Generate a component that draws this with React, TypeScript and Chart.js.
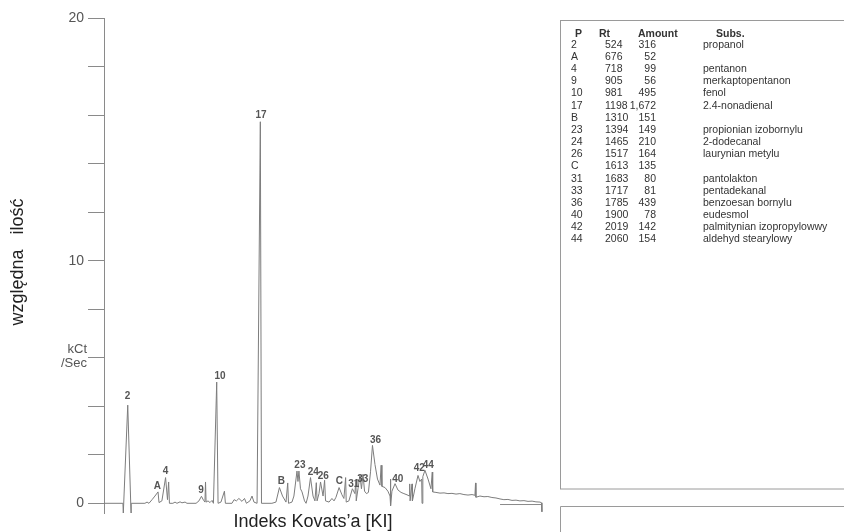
import React, { useEffect, useRef } from 'react';
import { Chart, registerables } from 'chart.js';
Chart.register(...registerables);

// Chromatogram trace: Kovats index (KI) vs relative amount (kCt/Sec)
const traceKI = [
  400, 498, 500, 523, 540, 541, 612, 623, 633, 649, 664, 680, 685, 700, 719, 729, 735, 739,
  757, 768, 778, 794, 804, 820, 830, 877, 892, 905, 916, 923, 926, 929, 939, 949, 960, 967,
  984, 991, 1006, 1024, 1029, 1063, 1074, 1086, 1099, 1115, 1128, 1138, 1156, 1167, 1177,
  1193, 1210, 1216, 1270, 1291, 1309, 1325, 1343, 1352, 1356, 1374, 1384, 1400, 1405, 1410,
  1418, 1426, 1439, 1447, 1457, 1470, 1483, 1493, 1500, 1504, 1514, 1522, 1535, 1543, 1548,
  1566, 1581, 1592, 1602, 1618, 1633, 1643, 1652, 1655, 1669, 1687, 1700, 1705, 1707, 1716,
  1726, 1734, 1742, 1750, 1760, 1770, 1781, 1791, 1804, 1817, 1830, 1836, 1840, 1856, 1871,
  1882, 1884, 1886, 1892, 1908, 1923, 1939, 1954, 1970, 1983, 1984, 1986, 1996, 1998, 2011,
  2027, 2037, 2046, 2048, 2052, 2063, 2079, 2094, 2101, 2103, 2120, 2141, 2162, 2182, 2203,
  2224, 2244, 2265, 2286, 2307, 2322, 2325, 2327, 2348, 2369, 2389, 2410, 2431, 2452, 2472,
  2493, 2514, 2535, 2555, 2576, 2597, 2618, 2638, 2659, 2667, 2669,
];
const traceVal = [
  0, 0, -0.4, 4.05, -0.4, 0, 0, 0.05, 0, 0.15, 0.3, 0.47, 0.03, 0.1, 1.06, 0.15, 0.88, 0,
  0, 0.05, 0, 0.06, 0.02, 0.05, 0, 0, 0.1, 0.29, 0.12, 0.05, 0.88, 0.05, 0.1, 0.03, 0.12, 0,
  5.0, 0, 0.05, 0.5, 0, 0, 0.15, 0.1, 0.2, 0.08, 0.2, 0, 0.1, 0.3, 0.05,
  0, 15.74, 0, 0, 0.05, 0.65, 0.3, 0.05, 0.84, 0, 0.05, 0.3, 1.33, 0.9, 1.33,
  0.6, 0.47, 0.1, 0, 0.3, 1.06, 0.3, 0.1, 0.85, 0.1, 0.4, 0.88, 0.3, 0.95, 0.1,
  0.05, 0.2, 0.1, 0.25, 0.65, 0.35, 0.2, 1.06, 0.05, 0.1, 0.6, 0.4, 0.95, 0.1, 0.6,
  1.15, 0.6, 1.2, 0.5, 0.4, 0.45, 1.3, 2.39, 1.6, 1.0, 0.75, 1.57, 0.7, 0.65, 0.5,
  0.3, 1.0, -0.1, 0.5, 0.81, 0.55, 0.45, 0.4, 0.35, 0.3, 0.8, 0.1, 0.8, 0.1, 0.6,
  1.15, 0.9, 1.0, 0, 1.1, 1.36, 1.0, 0.6, 1.29, 0.47, 0.45, 0.42, 0.43, 0.4, 0.41,
  0.38, 0.4, 0.36, 0.34, 0.36, 0.33, 0.84, 0.25, 0.3, 0.27, 0.28, 0.24, 0.22, 0.18, 0.15,
  0.16, 0.12, 0.13, 0.1, 0.11, 0.08, 0.09, 0.06, 0.05, 0.02, -0.35,
];

// Short horizontal baseline marker at the end of the run
const markKI = [2452, 2667];
const markVal = [-0.05, -0.05];

// Peak labels (name, KI, level of the label in kCt/Sec)
const peakNames = ['2', 'A', '4', '9', '10', '17', 'B', '23', '24', '26', 'C', '31', '33', '36', '40', '42', '44'];
const peakKI = [522, 676, 719, 903, 1001, 1214, 1319, 1415, 1484, 1536, 1619, 1694, 1741, 1807, 1922, 2034, 2080];
const peakLevel = [4.43, 0.71, 1.33, 0.55, 5.25, 16.02, 0.93, 1.55, 1.28, 1.13, 0.89, 0.8, 0.99, 2.61, 0.99, 1.44, 1.58];

const yLabelled = [0, 10, 20];
const yUnit = ['kCt', '/Sec'];
const yTitle = 'względna   ilość';
const xTitle = 'Indeks Kovats’a [KI]';

// Peak table
const tableHeader = ['P', 'Rt', 'Amount', 'Subs.'];
const tableP = ['2', 'A', '4', '9', '10', '17', 'B', '23', '24', '26', 'C', '31', '33', '36', '40', '42', '44'];
const tableRt = ['524', '676', '718', '905', '981', '1198', '1310', '1394', '1465', '1517', '1613', '1683', '1717', '1785', '1900', '2019', '2060'];
const tableAmount = ['316', '52', '99', '56', '495', '1,672', '151', '149', '210', '164', '135', '80', '81', '439', '78', '142', '154'];
const tableSubs = [
  'propanol', '', 'pentanon', 'merkaptopentanon', 'fenol', '2.4-nonadienal', '',
  'propionian izobornylu', '2-dodecanal', 'laurynian metylu', '', 'pantolakton',
  'pentadekanal', 'benzoesan bornylu', 'eudesmol', 'palmitynian izopropylowwy', 'aldehyd stearylowy',
];

const FONT = '"Liberation Sans", Arial, sans-serif';

const decorPlugin = {
  id: 'decor',
  afterDraw(chart: any) {
    const ctx = chart.ctx as CanvasRenderingContext2D;
    const xs = chart.scales.x;
    const ys = chart.scales.y;
    const area = chart.chartArea;
    ctx.save();

    // peak labels
    ctx.textAlign = 'center';
    ctx.textBaseline = 'middle';
    ctx.fillStyle = '#555';
    ctx.font = `bold 10px ${FONT}`;
    peakNames.forEach((n, i) => {
      ctx.fillText(n, xs.getPixelForValue(peakKI[i]), ys.getPixelForValue(peakLevel[i]));
    });

    // unit label
    ctx.textAlign = 'right';
    ctx.fillStyle = '#555';
    ctx.font = `13px ${FONT}`;
    const y6 = ys.getPixelForValue(6);
    ctx.fillText(yUnit[0], area.left - 17, y6 - 8.5);
    ctx.fillText(yUnit[1], area.left - 17, y6 + 5.5);

    // axis titles
    ctx.fillStyle = '#222';
    ctx.font = `18px ${FONT}`;
    ctx.textAlign = 'center';
    ctx.save();
    ctx.translate(18, 262);
    ctx.rotate(-Math.PI / 2);
    ctx.fillText(yTitle, 0, 0);
    ctx.restore();
    ctx.fillText(xTitle, 313, 522);

    // table boxes
    ctx.strokeStyle = '#9a9a9a';
    ctx.lineWidth = 1;
    ctx.strokeRect(560.5, 20.5, 320, 468.5);
    ctx.beginPath();
    ctx.moveTo(560.5, 540);
    ctx.lineTo(560.5, 506.5);
    ctx.lineTo(880, 506.5);
    ctx.stroke();

    // table header
    ctx.fillStyle = '#333';
    ctx.textBaseline = 'middle';
    ctx.textAlign = 'left';
    ctx.font = `bold 10.5px ${FONT}`;
    ctx.fillText(tableHeader[0], 575, 34);
    ctx.fillText(tableHeader[1], 599, 34);
    ctx.fillText(tableHeader[2], 638, 34);
    ctx.fillText(tableHeader[3], 716, 34);

    // rows
    ctx.font = `10.5px ${FONT}`;
    tableP.forEach((p, i) => {
      const yy = 45 + i * 12.15;
      ctx.textAlign = 'left';
      ctx.fillText(p, 571, yy);
      ctx.fillText(tableRt[i], 605, yy);
      ctx.fillText(tableSubs[i], 703, yy);
      ctx.textAlign = 'right';
      ctx.fillText(tableAmount[i], 656, yy);
    });
    ctx.restore();
  },
};

export default function App() {
  const ref = useRef<HTMLCanvasElement>(null);
  useEffect(() => {
    if (!ref.current) return;
    const trace = traceKI.map((k, i) => ({ x: k, y: traceVal[i] }));
    const mark = markKI.map((k, i) => ({ x: k, y: markVal[i] }));
    const chart = new Chart(ref.current, {
      type: 'line',
      data: {
        datasets: [
          { data: trace, borderColor: '#7d7d7d', borderWidth: 1, pointRadius: 0, tension: 0 },
          { data: mark, borderColor: '#8a8a8a', borderWidth: 1, pointRadius: 0, tension: 0 },
        ],
      },
      options: {
        animation: false,
        responsive: false,
        events: [],
        layout: { padding: { left: 44, right: 299, top: 18.5, bottom: 19 } },
        plugins: { legend: { display: false }, tooltip: { enabled: false }, title: { display: false } },
        scales: {
          x: { type: 'linear', min: 400, max: 2685, display: false },
          y: {
            type: 'linear',
            min: -0.4,
            max: 20,
            afterFit: (s: any) => { s.width = 60; },
            grid: { drawOnChartArea: false, drawTicks: true, tickLength: 16, color: '#8a8a8a', lineWidth: 1 },
            border: { display: true, color: '#8a8a8a', width: 1 },
            ticks: {
              stepSize: 2,
              includeBounds: false,
              padding: 4,
              color: '#555',
              font: { size: 14, family: FONT },
              callback: (v: any) => (yLabelled.includes(Number(v)) ? String(v) : ''),
            },
          },
        },
      },
      plugins: [decorPlugin],
    });
    return () => chart.destroy();
  }, []);
  return (
    <div style={{ position: 'absolute', left: 0, top: 0, width: 844, height: 532, background: '#fff' }}>
      <canvas ref={ref} width={844} height={532} style={{ display: 'block' }} />
    </div>
  );
}
